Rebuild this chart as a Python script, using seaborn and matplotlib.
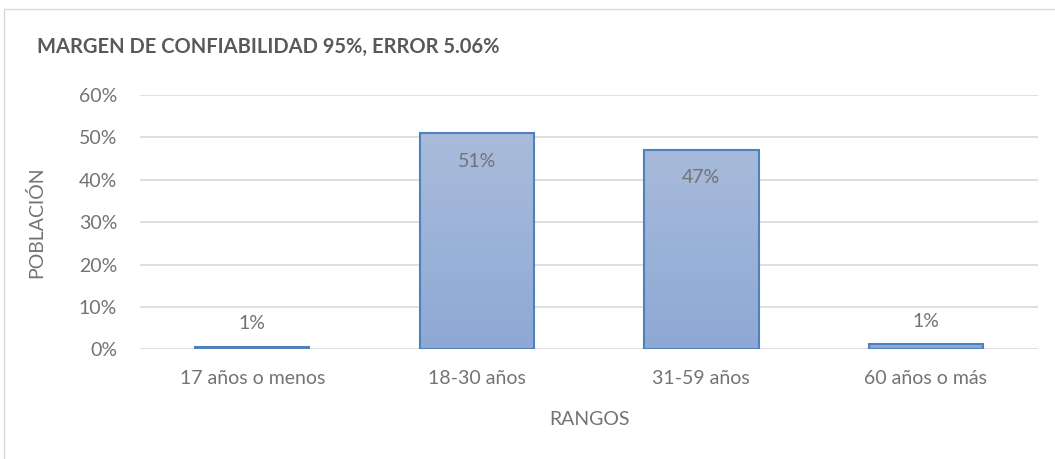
import numpy as np
import pandas as pd
import matplotlib.pyplot as plt
import seaborn as sns
from matplotlib.lines import Line2D
from matplotlib.colors import LinearSegmentedColormap

# Data
categorias = ["17 años o menos", "18-30 años", "31-59 años", "60 años o más"]
poblacion = [0.006, 0.51, 0.471, 0.012]
etiquetas = ["1%", "51%", "47%", "1%"]
y_ticks = [0, 0.1, 0.2, 0.3, 0.4, 0.5, 0.6]

df = pd.DataFrame({"rango": categorias, "poblacion": poblacion})

sns.set_style("white")
plt.rcParams['font.family'] = ['Lato', 'DejaVu Sans']
gris = "#595959"
gris_claro = "#737373"

fig = plt.figure(figsize=(10.55, 4.59), dpi=100)
ax = fig.add_axes([0.1327, 0.239, 0.8512, 0.554])

sns.barplot(data=df, x="rango", y="poblacion", ax=ax, width=0.51,
            color="#9DB3D9", edgecolor="#4F81BD", linewidth=1.5, zorder=3)

# gradient fill inside bars
cmap = LinearSegmentedColormap.from_list("grad", ["#8EA9D5", "#AABCDB"])
grad = np.linspace(0, 1, 256).reshape(-1, 1)
for p in ax.patches:
    x0, y0 = p.get_x(), p.get_y()
    w, h = p.get_width(), p.get_height()
    im = ax.imshow(grad, cmap=cmap, origin="lower", aspect="auto",
                   extent=[x0, x0 + w, 0, 0.52], zorder=2.5)
    im.set_clip_path(p)
    p.set_facecolor("none")

ax.set_xlim(-0.5, 3.5)
ax.set_ylim(0, 0.6)
ax.set_yticks(y_ticks)
ax.set_yticklabels([f"{int(round(t * 100))}%" for t in y_ticks])
ax.yaxis.grid(True, color="#D9D9D9", linewidth=1.2, zorder=0)
ax.set_axisbelow(True)
for s in ax.spines.values():
    s.set_visible(False)
ax.tick_params(axis="both", length=0, labelsize=14, colors=gris_claro)
ax.tick_params(axis="y", pad=16.5)
ax.tick_params(axis="x", pad=15)

# data labels
for i, (v, lab) in enumerate(zip(poblacion, etiquetas)):
    if v > 0.1:
        ax.text(i, v - 0.066, lab, ha="center", va="center", fontsize=14, color=gris_claro, zorder=4)
    else:
        ax.text(i, v + 0.054, lab, ha="center", va="center", fontsize=14, color=gris_claro, zorder=4)

ax.set_xlabel("RANGOS", fontsize=14, color=gris_claro, labelpad=17)
ax.set_ylabel("POBLACIÓN", fontsize=14, color=gris_claro, labelpad=24)

fig.text(0.035, 0.897, "MARGEN DE CONFIABILIDAD 95%, ERROR 5.06%", fontsize=14.5,
         fontweight="bold", color=gris, ha="left", va="center")

# chart frame (top and left edges visible)
fig.add_artist(Line2D([0.004, 1.0], [0.981, 0.981], transform=fig.transFigure, color="#D9D9D9", linewidth=1))
fig.add_artist(Line2D([0.004, 0.004], [0.0, 0.981], transform=fig.transFigure, color="#D9D9D9", linewidth=1))

fig.savefig("out.png", dpi=100)
